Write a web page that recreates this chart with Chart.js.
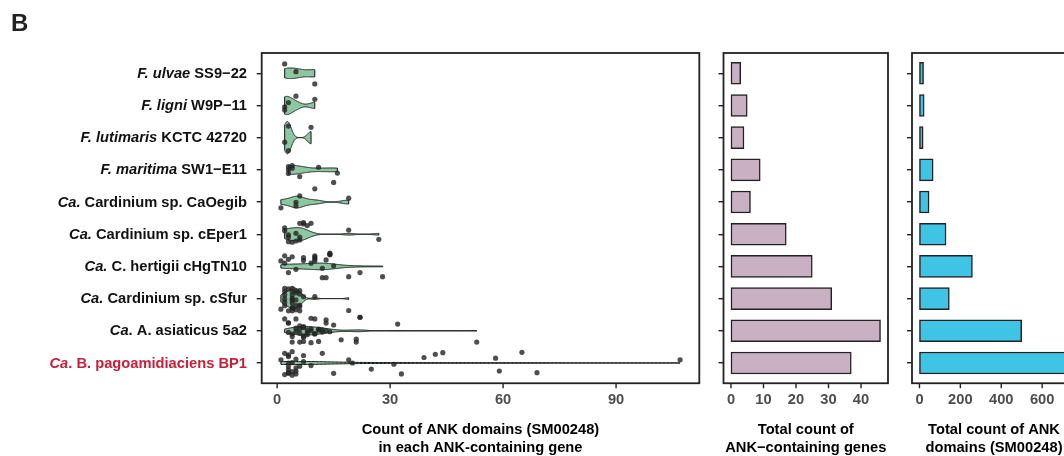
<!DOCTYPE html>
<html>
<head>
<meta charset="utf-8">
<script src="https://cdn.jsdelivr.net/npm/chart.js@4.4.0/dist/chart.umd.min.js"></script>
<style>
  html, body { margin: 0; padding: 0; background: #fff; overflow: hidden; }
  body { width: 1064px; height: 456px; position: relative; }
  canvas { position: absolute; top: 0; }
  #countChart { left: 0; }
  #geneChart { left: 700px; }
  #domainChart { left: 900px; }
</style>
</head>
<body>
<canvas id="countChart" width="705" height="456"></canvas>
<canvas id="geneChart" width="200" height="456"></canvas>
<canvas id="domainChart" width="200" height="456"></canvas>
<script>
const FONT = "'Liberation Sans', Arial, sans-serif";
const FS = 14.7;

// --- Genomes, top to bottom (italic part + plain part) ---
const speciesItalic = ['F. ulvae', 'F. ligni', 'F. lutimaris', 'F. maritima', 'Ca.', 'Ca.', 'Ca.', 'Ca.', 'Ca', 'Ca'];
const speciesRest = [' SS9\u221222', ' W9P\u221211', ' KCTC 42720', ' SW1\u2212E11', ' Cardinium sp. CaOegib',
  ' Cardinium sp. cEper1', ' C. hertigii cHgTN10', ' Cardinium sp. cSfur', '. A. asiaticus 5a2', '. B. pagoamidiaciens BP1'];
const highlightRow = 9;

// --- ANK domains per gene (counts) and the vertical jitter of each dot ---
const ulvaeCounts = [2, 5, 10];
const ulvaeJitter = [-0.29, -0.05, 0.33];
const ligniCounts = [5, 3, 2, 2, 10];
const ligniJitter = [-0.29, -0.09, 0.04, 0.14, -0.19];
const lutimarisCounts = [3, 2, 3, 9];
const lutimarisJitter = [-0.36, 0.14, 0.40, -0.32];
const maritimaCounts = [3, 4, 3, 6, 11, 16, 15, 3, 4];
const maritimaJitter = [-0.10, -0.13, 0.11, 0.21, -0.08, 0.10, 0.39, 0.0, -0.05];
const caoegibCounts = [10, 6, 5, 5, 1, 19];
const caoegibJitter = [-0.41, -0.19, 0.01, 0.12, 0.18, -0.12];
const ceper1Counts = [2, 3, 4, 3, 6, 6, 5, 6, 7, 9, 8, 19, 27, 2, 7, 5, 3];
const ceper1Jitter = [-0.11, 0.09, 0.25, 0.23, 0.09, 0.18, -0.03, -0.34, -0.36, -0.34, -0.27, -0.13, 0.16, -0.20, -0.32, 0.21, 0.02];
const chgCounts = [2, 4, 3, 1, 2, 7, 7, 10, 10, 10, 14, 14, 13, 9, 15, 12, 5, 3, 12, 13, 19, 22, 28, 14, 10];
const chgJitter = [-0.33, -0.30, -0.22, -0.17, -0.10, -0.27, -0.18, -0.33, -0.23, -0.17, -0.41, -0.36, -0.20, -0.10, -0.02, 0.06, 0.09, 0.19, 0.35, 0.35, 0.32, 0.19, 0.32, -0.38, -0.28];
const csfurCounts = [2, 2, 4, 4, 5, 6, 2, 4, 6, 7, 10, 2, 4, 5, 2, 4, 6, 2, 5, 6, 1, 3, 4, 5, 6, 19, 3, 4, 4, 5, 4];
const csfurJitter = [-0.32, -0.22, -0.32, -0.22, -0.25, -0.25, -0.11, -0.11, -0.14, -0.06, -0.06, 0.01, -0.01, 0.04, 0.11, 0.14, 0.20, 0.22, 0.22, 0.25, 0.33, 0.38, 0.38, 0.35, 0.38, 0.37, -0.30, 0.30, 0.05, -0.18, 0.28];
const asiaticusCounts = [2, 5, 9, 10, 13, 13, 15, 3, 7, 5, 6, 8, 9, 11, 12, 13, 14, 4, 7, 10, 4, 6, 7, 9, 11, 17, 21, 21, 22, 22, 32, 53, 3, 4, 3, 5, 6, 7, 8, 9, 10, 11, 12, 6, 8, 7];
const asiaticusJitter = [-0.37, -0.37, -0.39, -0.37, -0.34, -0.24, -0.18, -0.24, -0.13, 0.02, -0.05, -0.03, 0.0, -0.05, -0.03, 0.0, 0.03, 0.18, 0.16, 0.10, 0.35, 0.35, 0.33, 0.37, 0.33, 0.28, 0.26, 0.35, -0.42, -0.42, -0.21, 0.35, -0.25, 0.10, 0.05, -0.08, 0.08, -0.10, 0.06, -0.06, 0.09, -0.02, 0.04, -0.15, 0.12, 0.20];
const bp1Counts = [4, 3, 7, 12, 1, 3, 4, 5, 7, 19, 20, 9, 3, 3, 4, 5, 3, 5, 15, 25, 31, 33, 39, 42, 44, 58, 65, 107, 59, 69, 2, 3, 4, 2, 5, 3, 6];
const bp1Jitter = [-0.35, -0.25, -0.23, -0.30, -0.10, 0.0, -0.01, -0.12, -0.04, -0.10, 0.0, 0.08, 0.11, 0.21, 0.27, 0.25, 0.32, 0.34, 0.32, 0.19, 0.04, 0.34, -0.17, -0.27, -0.32, -0.15, -0.33, -0.10, 0.25, 0.30, 0.36, 0.30, 0.38, -0.30, 0.15, -0.20, 0.10];

// --- Totals per genome ---
const geneTotals = [3, 5, 4, 9, 6, 17, 25, 31, 46, 37];
const domainTotals = [20, 23, 18, 67, 47, 130, 259, 146, 500, 729];

// --- Tick labels ---
const countTicks = [0, 30, 60, 90];
const geneTicks = [0, 10, 20, 30, 40];
const domainTicks = [0, 200, 400, 600];

const groups = [
  [ulvaeCounts, ulvaeJitter], [ligniCounts, ligniJitter], [lutimarisCounts, lutimarisJitter],
  [maritimaCounts, maritimaJitter], [caoegibCounts, caoegibJitter], [ceper1Counts, ceper1Jitter],
  [chgCounts, chgJitter], [csfurCounts, csfurJitter], [asiaticusCounts, asiaticusJitter], [bp1Counts, bp1Jitter]
];

// --- Kernel density (gaussian, R's bw.nrd0), trimmed to data range ---
function quantile(sorted, p) {
  const h = (sorted.length - 1) * p;
  const lo = Math.floor(h);
  const hi = Math.min(lo + 1, sorted.length - 1);
  return sorted[lo] + (h - lo) * (sorted[hi] - sorted[lo]);
}
function bwNrd0(x) {
  const n = x.length;
  const mean = x.reduce((a, b) => a + b, 0) / n;
  const sd = Math.sqrt(x.reduce((a, b) => a + (b - mean) ** 2, 0) / (n - 1));
  const s = [...x].sort((a, b) => a - b);
  let lo = Math.min(sd, (quantile(s, 0.75) - quantile(s, 0.25)) / 1.34);
  if (!lo) lo = sd || Math.abs(s[0]) || 1;
  return 0.9 * lo * Math.pow(n, -0.2);
}
function kde(x, steps = 300) {
  const bw = bwNrd0(x);
  const min = Math.min(...x), max = Math.max(...x);
  const pts = [];
  for (let i = 0; i < steps; i++) {
    const v = min + (max - min) * i / (steps - 1);
    let d = 0;
    for (const xi of x) { const z = (v - xi) / bw; d += Math.exp(-0.5 * z * z); }
    pts.push({ v, d: d / (x.length * bw * Math.sqrt(2 * Math.PI)) });
  }
  return pts;
}

// --- Plugins ---
const violinPlugin = {
  id: 'violins',
  beforeDatasetsDraw(chart) {
    const { ctx, chartArea, scales: { x, y } } = chart;
    const shapes = groups.map(g => kde(g[0]));
    const maxD = Math.max(...shapes.flat().map(p => p.d));
    ctx.save();
    ctx.beginPath();
    ctx.rect(chartArea.left, chartArea.top, chartArea.width, chartArea.height);
    ctx.clip();
    shapes.forEach((pts, i) => {
      ctx.beginPath();
      pts.forEach((p, k) => {
        const px = x.getPixelForValue(p.v), py = y.getPixelForValue(i - 0.5 * p.d / maxD);
        k ? ctx.lineTo(px, py) : ctx.moveTo(px, py);
      });
      for (let k = pts.length - 1; k >= 0; k--) {
        const p = pts[k];
        ctx.lineTo(x.getPixelForValue(p.v), y.getPixelForValue(i + 0.5 * p.d / maxD));
      }
      ctx.closePath();
      ctx.fillStyle = '#8cc7a1';
      ctx.fill();
      ctx.lineWidth = 1;
      ctx.strokeStyle = '#111';
      ctx.stroke();
    });
    ctx.restore();
  }
};

// panel border + x tick marks
const boxPlugin = {
  id: 'panelBox',
  afterDraw(chart) {
    const { ctx, chartArea: a, scales: { x } } = chart;
    ctx.save();
    ctx.lineWidth = 1.8;
    ctx.strokeStyle = '#222';
    ctx.strokeRect(a.left, a.top, a.width, a.height);
    ctx.lineWidth = 1.4;
    x.ticks.forEach(t => {
      const px = x.getPixelForValue(t.value);
      ctx.beginPath();
      ctx.moveTo(px, a.bottom);
      ctx.lineTo(px, a.bottom + 5);
      ctx.stroke();
    });
    ctx.restore();
  }
};

const labelPlugin = {
  id: 'speciesLabels',
  afterDraw(chart) {
    const { ctx, scales: { y } } = chart;
    const right = 247;
    const italicFont = `italic bold ${FS}px ${FONT}`;
    const plainFont = `bold ${FS}px ${FONT}`;
    ctx.save();
    ctx.textBaseline = 'middle';
    ctx.textAlign = 'left';
    speciesItalic.forEach((it, i) => {
      const py = y.getPixelForValue(i) + 0.5;
      ctx.font = plainFont;
      const wRest = ctx.measureText(speciesRest[i]).width;
      ctx.font = italicFont;
      const wIt = ctx.measureText(it).width;
      ctx.fillStyle = i === highlightRow ? '#c8203a' : '#111';
      ctx.fillText(it, right - wRest - wIt, py);
      ctx.font = plainFont;
      ctx.fillText(speciesRest[i], right - wRest, py);
    });
    // panel letter
    ctx.fillStyle = '#222';
    ctx.textBaseline = 'alphabetic';
    ctx.font = 'bold 24px ' + FONT;
    ctx.fillText('B', 11, 31);
    ctx.restore();
  }
};

// --- Axis helpers ---
function xAxis(min, max, ticks, title) {
  return {
    type: 'linear', min, max,
    afterBuildTicks: s => { s.ticks = ticks.map(v => ({ value: v })); },
    grid: { display: false, drawTicks: true, tickLength: 5 },
    border: { display: false },
    ticks: { color: '#4d4d4d', font: { family: FONT, size: FS, weight: 'bold' }, padding: 2.5, maxRotation: 0, autoSkip: false },
    title: { display: true, text: title, color: '#000', font: { family: FONT, size: FS, weight: 'bold', lineHeight: 1.16 }, padding: { top: 11, bottom: 0 } }
  };
}
function yAxis(width) {
  return {
    type: 'linear', min: -0.63, max: 9.63, reverse: true, offset: false,
    afterBuildTicks: s => { s.ticks = speciesRest.map((_, i) => ({ value: i })); },
    afterFit: s => { s.width = width; },
    grid: { drawOnChartArea: false, drawTicks: true, tickLength: 5, color: '#222', lineWidth: 1.4, offset: false },
    border: { display: false },
    ticks: { display: false }
  };
}
const common = {
  responsive: false,
  animation: false,
  plugins: { legend: { display: false }, tooltip: { enabled: false } }
};

// --- Left: violins + jittered points ---
const points = [];
groups.forEach(([counts, jitter], i) => {
  counts.forEach((c, k) => points.push({ x: c, y: i + jitter[k] }));
});
new Chart(document.getElementById('countChart'), {
  type: 'scatter',
  data: { datasets: [{ data: points, backgroundColor: 'rgba(35,35,35,0.8)', borderWidth: 0, pointRadius: 2.6 }] },
  options: {
    ...common,
    layout: { padding: { top: 53, right: 5.7, bottom: 0, left: 0 } },
    scales: {
      x: xAxis(-4.1, 112.1, countTicks, ['Count of ANK domains (SM00248)', 'in each ANK-containing gene']),
      y: yAxis(261.7)
    }
  },
  plugins: [violinPlugin, boxPlugin, labelPlugin]
});

// --- Middle: ANK-containing genes ---
new Chart(document.getElementById('geneChart'), {
  type: 'bar',
  data: { datasets: [{ data: geneTotals.map((v, i) => ({ x: v, y: i })), backgroundColor: '#c9b0c3', borderColor: '#222', borderWidth: 1.5, borderSkipped: false, barThickness: 22 }] },
  options: {
    ...common,
    indexAxis: 'y',
    layout: { padding: { top: 53, right: 12, bottom: 0, left: 0 } },
    scales: {
      x: xAxis(-2.3, 48.3, geneTicks, ['Total count of', 'ANK\u2212containing genes']),
      y: yAxis(23.5)
    }
  },
  plugins: [boxPlugin]
});

// --- Right: total ANK domains ---
new Chart(document.getElementById('domainChart'), {
  type: 'bar',
  data: { datasets: [{ data: domainTotals.map((v, i) => ({ x: v, y: i })), backgroundColor: '#40c4e5', borderColor: '#222', borderWidth: 1.5, borderSkipped: false, barThickness: 22 }] },
  options: {
    ...common,
    indexAxis: 'y',
    layout: { padding: { top: 53, right: 24, bottom: 0, left: 0 } },
    scales: {
      x: xAxis(-36.5, 765.5, domainTicks, ['Total count of ANK', 'domains (SM00248)']),
      y: yAxis(12)
    }
  },
  plugins: [boxPlugin]
});
</script>
</body>
</html>
